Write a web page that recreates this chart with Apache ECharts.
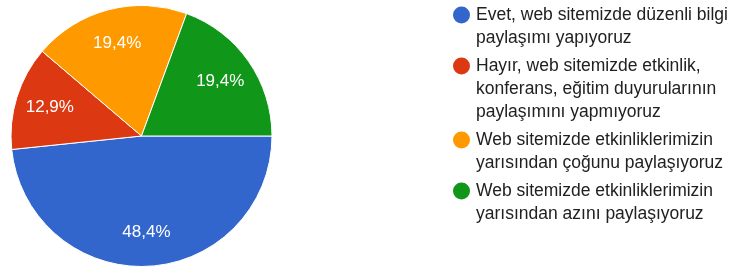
<!DOCTYPE html>
<html>
<head>
<meta charset="utf-8">
<script src="https://cdn.jsdelivr.net/npm/echarts@6/dist/echarts.min.js"></script>
<style>
  html, body { margin: 0; padding: 0; background: #fff; }
  #chart { width: 733px; height: 269px; }
</style>
</head>
<body>
<div id="chart"></div>
<script>
// kategoriler (legend'de görünen satır sonlarıyla)
const categories = [
  "Evet, web sitemizde düzenli bilgi\npaylaşımı yapıyoruz",
  "Hayır, web sitemizde etkinlik,\nkonferans, eğitim duyurularının\npaylaşımını yapmıyoruz",
  "Web sitemizde etkinliklerimizin\nyarısından çoğunu paylaşıyoruz",
  "Web sitemizde etkinliklerimizin\nyarısından azını paylaşıyoruz",
];
const percents = [48.4, 12.9, 19.4, 19.4];
const colors = ["#3366cc", "#dc3912", "#ff9900", "#109618"];

const pieData = categories.map((name, i) => ({ name: name, value: percents[i] }));

// legend: nokta ilk satırda dursun diye rich text ile çiziliyor
const rich = {
  t: { fontSize: 17.5, lineHeight: 23, color: "#212121", fontFamily: "Liberation Sans, Arial, sans-serif" },
  sp: { width: 23, height: 17, lineHeight: 23 },
};
colors.forEach((c, i) => {
  rich["dot" + i] = { width: 17, height: 17, borderRadius: 8.5, backgroundColor: c, lineHeight: 23 };
});

const chart = echarts.init(document.getElementById("chart"));
chart.setOption({
  animation: false,
  color: colors,
  legend: {
    orient: "vertical",
    left: 447,
    top: 3.5,
    padding: 0,
    itemGap: 5,
    icon: "circle",
    itemWidth: 0,
    itemHeight: 0,
    selectedMode: false,
    data: categories,
    formatter: (name) => {
      const idx = categories.indexOf(name);
      return name
        .split("\n")
        .map((line, i) => (i === 0 ? "{dot" + idx + "|}{g|}" : "{sp|}") + "{t|" + line + "}")
        .join("\n");
    },
    textStyle: {
      fontSize: 17.5,
      lineHeight: 23,
      rich: Object.assign({ g: { width: 6, height: 17, lineHeight: 23 } }, rich),
    },
  },
  series: [
    {
      type: "pie",
      center: [141.5, 136],
      radius: [0, 130.5],
      startAngle: 0,
      clockwise: true,
      data: pieData,
      label: { show: false },
      labelLine: { show: false },
      itemStyle: { borderColor: "#ffffff", borderWidth: 1 },
      emphasis: { disabled: true },
    },
    {
      // yüzde etiketleri için şeffaf katman
      type: "pie",
      center: [141.5, 136],
      radius: [56, 130],
      startAngle: 0,
      clockwise: true,
      silent: true,
      data: pieData,
      itemStyle: { color: "transparent", borderWidth: 0 },
      labelLine: { show: false },
      emphasis: { disabled: true },
      label: {
        show: true,
        position: "inside",
        formatter: (p) => p.value.toFixed(1).replace(".", ",") + "%",
        color: "#ffffff",
        fontFamily: "Liberation Sans, Arial, sans-serif",
        fontSize: 17,
      },
    },
  ],
});
</script>
</body>
</html>
